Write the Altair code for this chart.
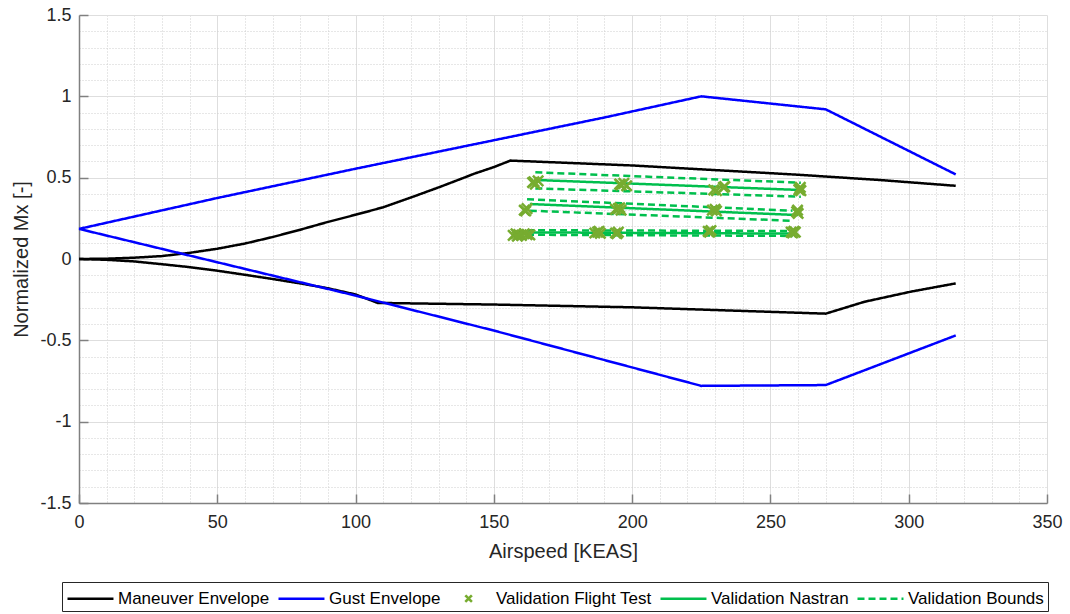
import altair as alt
import pandas as pd

# ---------------- data ----------------
SERIES = ["Maneuver Envelope", "Gust Envelope", "Validation Flight Test",
          "Validation Nastran", "Validation Bounds"]
COLORS = ["#000000", "#0000FF", "#77AC30", "#00BF4D", "#00BF4D"]

man_up_x = [0, 10, 20, 30, 40, 50, 60, 70, 80, 90, 100, 110, 120, 130, 140, 143, 150, 156, 200, 260, 290, 317]
man_up_y = [0, 0.002, 0.008, 0.018, 0.038, 0.063, 0.095, 0.135, 0.18, 0.228, 0.272, 0.318, 0.378, 0.44, 0.505, 0.525, 0.565, 0.605, 0.575, 0.518, 0.485, 0.45]
man_lo_x = [0, 10, 20, 30, 40, 50, 60, 70, 80, 90, 100, 108, 150, 200, 270, 284, 301, 317]
man_lo_y = [0, -0.005, -0.015, -0.032, -0.05, -0.072, -0.097, -0.123, -0.15, -0.18, -0.218, -0.27, -0.28, -0.297, -0.336, -0.263, -0.2, -0.15]
gust_up_x = [0, 50, 100, 150, 190, 225, 270, 317]
gust_up_y = [0.185, 0.375, 0.555, 0.73, 0.87, 1.0, 0.92, 0.52]
gust_lo_x = [0, 50, 100, 150, 225, 270, 317]
gust_lo_y = [0.185, -0.02, -0.225, -0.44, -0.78, -0.775, -0.47]

# Nastran lines (three cases)
nas_x = [[165, 261], [163, 260], [158, 258]]
nas_y = [[0.486, 0.424], [0.338, 0.27], [0.164, 0.156]]
# bounds (upper / lower for each case)
bnd_x = [[165, 261], [165, 261], [162, 258], [163, 258], [162, 258], [162, 258]]
bnd_y = [[0.533, 0.469], [0.434, 0.383], [0.367, 0.297], [0.297, 0.235], [0.177, 0.172], [0.149, 0.142]]

# flight test points
ft_x = [164, 165, 166, 164.5, 196, 197, 198, 195.5, 229.5, 230.5, 233, 233.5, 260.5, 261, 260.8, 260.3,
        161, 162, 161.5, 194, 195, 196, 195.5, 229, 230, 230.5, 259.5, 260, 259.8,
        157, 158, 159, 160, 161, 162, 163, 158.5, 186.5, 187.5, 188.5, 188, 194, 195, 194.5,
        227.5, 228.5, 228, 257.5, 258.5, 258, 259]
ft_y = [0.47, 0.46, 0.48, 0.475, 0.455, 0.465, 0.45, 0.46, 0.425, 0.42, 0.44, 0.445, 0.43, 0.42, 0.44, 0.425,
        0.30, 0.31, 0.295, 0.305, 0.31, 0.30, 0.315, 0.30, 0.305, 0.295, 0.29, 0.28, 0.30,
        0.145, 0.155, 0.15, 0.145, 0.155, 0.15, 0.148, 0.14, 0.16, 0.165, 0.158, 0.17, 0.16, 0.165, 0.155,
        0.17, 0.175, 0.165, 0.165, 0.17, 0.16, 0.165]

x_ticks = list(range(0, 351, 10))
x_major = list(range(0, 351, 50))
y_ticks = [round(-1.5 + 0.1 * i, 1) for i in range(31)]
y_major = [-1.5, -1, -0.5, 0, 0.5, 1, 1.5]

# ---------------- tables ----------------
rows = []
def add(xs, ys, series, seg):
    for i, (a, b) in enumerate(zip(xs, ys)):
        rows.append({"x": a, "y": b, "series": series, "seg": seg, "o": i})

add(man_up_x, man_up_y, SERIES[0], "m1")
add(man_lo_x, man_lo_y, SERIES[0], "m2")
add(gust_up_x, gust_up_y, SERIES[1], "g1")
add(gust_lo_x, gust_lo_y, SERIES[1], "g2")
env = pd.DataFrame(rows)

rows = []
for k, (xs_, ys_) in enumerate(zip(nas_x, nas_y)):
    add(xs_, ys_, SERIES[3], f"n{k}")
for k, (xs_, ys_) in enumerate(zip(bnd_x, bnd_y)):
    add(xs_, ys_, SERIES[4], f"b{k}")
val = pd.DataFrame(rows)

ft = pd.DataFrame({"x": ft_x, "y": ft_y, "series": SERIES[2]})
# legend carrier (lies outside the axes and is clipped away)
legend_carrier = pd.DataFrame({"x": [-1000], "y": [0], "series": [SERIES[2]]})

# ---------------- scales / encodings ----------------
FONT = "Liberation Sans"
xs = alt.Scale(domain=[0, 350], nice=False, zero=False)
ys = alt.Scale(domain=[-1.5, 1.5], nice=False, zero=False)

color = alt.Color("series:N", scale=alt.Scale(domain=SERIES, range=COLORS),
                  legend=alt.Legend(title=None))
dash = alt.StrokeDash("series:N", scale=alt.Scale(domain=SERIES,
                      range=[[1, 0], [1, 0], [1, 0], [1, 0], [7, 4]]),
                      legend=alt.Legend(title=None))
XPATH = "M-0.15,-0.15L0.15,0.15M0.15,-0.15L-0.15,0.15"
LEG_X = "M0.8,-0.3L1.4,0.3M1.4,-0.3L0.8,0.3"
LEG_L = "M-1,0L3.18,0"
shape = alt.Shape("series:N", scale=alt.Scale(domain=SERIES,
                  range=[LEG_L, LEG_L, LEG_X, LEG_L, LEG_L]),
                  legend=alt.Legend(title=None))

is_major_x = "datum.value % 50 === 0"
is_major_y = "abs(datum.value*2 - round(datum.value*2)) < 1e-6"

x_axis = alt.Axis(values=x_ticks, labelExpr=f"{is_major_x} ? toString(datum.value) : ''",
                  gridColor={"condition": {"test": is_major_x, "value": "#DEDEDE"}, "value": "#CFCFCF"},
                  gridDash={"condition": {"test": is_major_x, "value": []}, "value": [1, 2]},
                  ticks=False, tickSize=0, domainColor="#808080", domainWidth=1.5,
                  labelFontSize=18, labelColor="#262626", labelFont=FONT, labelPadding=10,
                  title="Airspeed [KEAS]", titleFontSize=20, titleFont=FONT, titleFontWeight="normal",
                  titleColor="#262626", titlePadding=10, orient="bottom", labelFlush=False)
y_axis = alt.Axis(values=y_ticks, labelExpr=f"{is_major_y} ? toString(datum.value) : ''",
                  gridColor={"condition": {"test": is_major_y, "value": "#DEDEDE"}, "value": "#CFCFCF"},
                  gridDash={"condition": {"test": is_major_y, "value": []}, "value": [1, 2]},
                  ticks=False, tickSize=0, domainColor="#808080", domainWidth=1.5,
                  labelFontSize=18, labelColor="#262626", labelFont=FONT, labelPadding=8,
                  title="Normalized Mx [-]", titleFontSize=20, titleFont=FONT, titleFontWeight="normal",
                  titleColor="#262626", titlePadding=8, orient="left", labelFlush=False)

x_tick_axis = alt.Axis(values=x_major, labels=False, title=None, grid=False, domain=False,
                       ticks=True, tickSize=9, offset=-9, tickColor="#808080", tickWidth=1.5,
                       orient="bottom")
y_tick_axis = alt.Axis(values=y_major, labels=False, title=None, grid=False, domain=False,
                       ticks=True, tickSize=9, offset=-9, tickColor="#808080", tickWidth=1.5,
                       orient="left")

env_layer = alt.Chart(env).mark_line(strokeWidth=2.5).encode(
    x=alt.X("x:Q", scale=xs, axis=x_axis),
    y=alt.Y("y:Q", scale=ys, axis=y_axis),
    color=color, strokeDash=dash, detail="seg:N", order="o:Q")

val_layer = alt.Chart(val).mark_line(strokeWidth=2.5).encode(
    x=alt.X("x:Q", scale=xs, axis=x_tick_axis),
    y=alt.Y("y:Q", scale=ys, axis=y_tick_axis),
    color=color, strokeDash=dash, detail="seg:N", order="o:Q")

ft_layer = alt.Chart(ft).mark_point(filled=False, strokeWidth=2.5, size=4800, opacity=1,
                                    shape=XPATH).encode(
    x=alt.X("x:Q", scale=xs, axis=None),
    y=alt.Y("y:Q", scale=ys, axis=None),
    color=color)

legend_layer = alt.Chart(legend_carrier).mark_point(filled=False, clip=True, opacity=1).encode(
    x=alt.X("x:Q", scale=xs, axis=None),
    y=alt.Y("y:Q", scale=ys, axis=None),
    color=color, shape=shape)

chart = alt.layer(env_layer, val_layer, ft_layer, legend_layer).resolve_axis(
    x="independent", y="independent"
).properties(
    width=968, height=488,
    autosize=alt.AutoSizeParams(type="none"),
    padding={"left": 79, "top": 15, "right": 23, "bottom": 111},
).configure_view(strokeWidth=0).configure_legend(
    orient="none", legendX=-17, legendY=567, direction="horizontal", columns=5,
    strokeColor="#262626", fillColor="white", padding=4, columnPadding=3,
    labelOffset=27, labelFontSize=17, labelFont=FONT, labelColor="#000000",
    symbolSize=484, symbolStrokeWidth=2.5, symbolType="stroke", labelLimit=400,
    cornerRadius=0, symbolFillColor="transparent"
)

chart.save("out.html", embed_options={"renderer": "svg", "actions": False})
